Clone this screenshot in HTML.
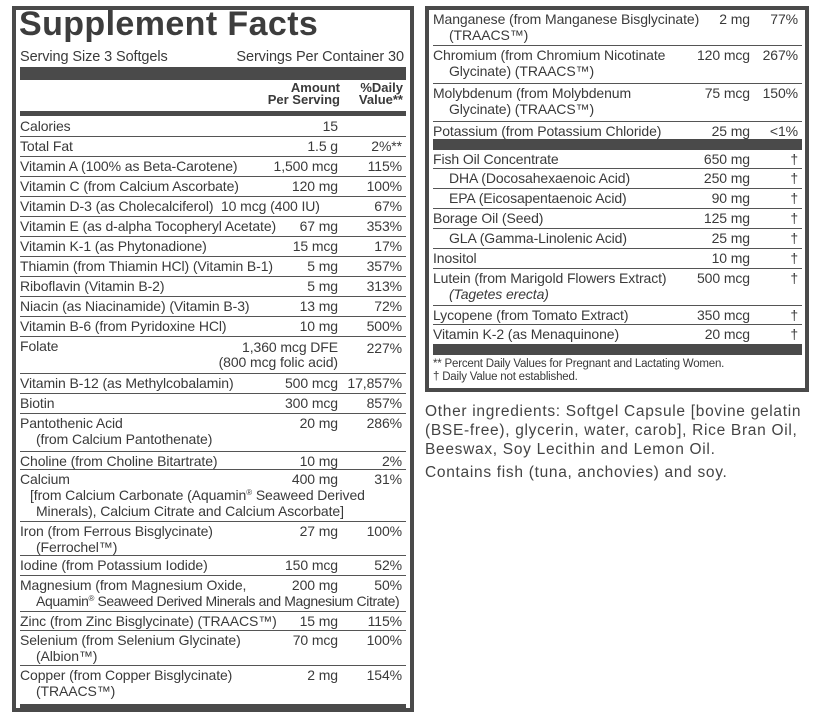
<!DOCTYPE html>
<html><head><meta charset="utf-8"><style>
body{margin:0;width:831px;height:717px;background:#fff;position:relative;overflow:hidden;font-family:"Liberation Sans",sans-serif;color:#3a3a3a;}
.box{position:absolute;border:4px solid #4a4a4a;box-sizing:border-box;}
.r{position:absolute;border-bottom:1px solid #555;font-size:14px;line-height:16px;letter-spacing:-0.1px;box-sizing:border-box;}
.r .n{position:absolute;left:0;top:1px;white-space:nowrap;}
.r .a{position:absolute;top:1px;text-align:right;white-space:nowrap;}
.r .d{position:absolute;top:1px;text-align:right;white-space:nowrap;}
.L{left:20px;width:386px;}
.L .a{right:68px;}.L .d{right:4px;}
.R{left:433px;width:369px;}
.R .a{right:52px;}.R .d{right:4px;}
.i{padding-left:16px;}
.bar{position:absolute;background:#4a4a4a;}
.s{font-size:8px;position:relative;top:-5px;line-height:0;}
</style></head><body>
<div class="box" style="left:12px;top:6px;width:402px;height:706px;"></div>
<div style="position:absolute;left:19px;top:5px;font-size:34px;font-weight:bold;color:#3d3d3d;letter-spacing:0.4px;">Supplement Facts</div>
<div style="position:absolute;left:20px;top:49px;font-size:14.5px;letter-spacing:-0.1px;">Serving Size 3 Softgels</div>
<div style="position:absolute;right:427px;top:49px;font-size:14.5px;letter-spacing:-0.1px;">Servings Per Container 30</div>
<div class="bar" style="left:20px;top:67px;width:386px;height:13px;"></div>
<div style="position:absolute;right:491px;top:82px;font-size:13px;font-weight:bold;text-align:right;line-height:12px;">Amount<br>Per Serving</div>
<div style="position:absolute;right:428px;top:82px;font-size:13px;font-weight:bold;text-align:right;line-height:12px;">%Daily<br>Value**</div>
<div class="bar" style="left:20px;top:111px;width:386px;height:5px;"></div>

<div class="r L" style="top:117px;height:20px"><span class="n">Calories</span><span class="a">15</span></div>
<div class="r L" style="top:137px;height:20px"><span class="n">Total Fat</span><span class="a">1.5 g</span><span class="d">2%**</span></div>
<div class="r L" style="top:157px;height:20px"><span class="n">Vitamin A (100% as Beta-Carotene)</span><span class="a">1,500 mcg</span><span class="d">115%</span></div>
<div class="r L" style="top:177px;height:20px"><span class="n">Vitamin C (from Calcium Ascorbate)</span><span class="a">120 mg</span><span class="d">100%</span></div>
<div class="r L" style="top:197px;height:20px"><span class="n">Vitamin D-3 (as Cholecalciferol)&nbsp; 10 mcg (400 IU)</span><span class="d">67%</span></div>
<div class="r L" style="top:217px;height:20px"><span class="n">Vitamin E (as d-alpha Tocopheryl Acetate)</span><span class="a">67 mg</span><span class="d">353%</span></div>
<div class="r L" style="top:237px;height:20px"><span class="n">Vitamin K-1 (as Phytonadione)</span><span class="a">15 mcg</span><span class="d">17%</span></div>
<div class="r L" style="top:257px;height:20px"><span class="n">Thiamin (from Thiamin HCl) (Vitamin B-1)</span><span class="a">5 mg</span><span class="d">357%</span></div>
<div class="r L" style="top:277px;height:20px"><span class="n">Riboflavin (Vitamin B-2)</span><span class="a">5 mg</span><span class="d">313%</span></div>
<div class="r L" style="top:297px;height:20px"><span class="n">Niacin (as Niacinamide) (Vitamin B-3)</span><span class="a">13 mg</span><span class="d">72%</span></div>
<div class="r L" style="top:317px;height:20px"><span class="n">Vitamin B-6 (from Pyridoxine HCl)</span><span class="a">10 mg</span><span class="d">500%</span></div>
<div class="r L" style="top:337px;height:37px"><span class="n">Folate</span><span class="a" style="top:3px;line-height:15px">1,360 mcg DFE<br>(800 mcg folic acid)</span><span class="d" style="top:3px">227%</span></div>
<div class="r L" style="top:374px;height:20px"><span class="n">Vitamin B-12 (as Methylcobalamin)</span><span class="a">500 mcg</span><span class="d">17,857%</span></div>
<div class="r L" style="top:394px;height:20px"><span class="n">Biotin</span><span class="a">300 mcg</span><span class="d">857%</span></div>
<div class="r L" style="top:414px;height:38px"><span class="n">Pantothenic Acid<br><span class="i">(from Calcium Pantothenate)</span></span><span class="a">20 mg</span><span class="d">286%</span></div>
<div class="r L" style="top:452px;height:18px"><span class="n">Choline (from Choline Bitartrate)</span><span class="a">10 mg</span><span class="d">2%</span></div>
<div class="r L" style="top:470px;height:52px"><span class="n">Calcium<br><span style="padding-left:10px">[from Calcium Carbonate (Aquamin<span class="s">®</span> Seaweed Derived</span><br><span class="i">Minerals), Calcium Citrate and Calcium Ascorbate]</span></span><span class="a">400 mg</span><span class="d">31%</span></div>
<div class="r L" style="top:522px;height:34px"><span class="n">Iron (from Ferrous Bisglycinate)<br><span class="i">(Ferrochel™)</span></span><span class="a">27 mg</span><span class="d">100%</span></div>
<div class="r L" style="top:556px;height:20px"><span class="n">Iodine (from Potassium Iodide)</span><span class="a">150 mcg</span><span class="d">52%</span></div>
<div class="r L" style="top:576px;height:36px"><span class="n">Magnesium (from Magnesium Oxide,<br><span class="i" style="letter-spacing:-0.4px">Aquamin<span class="s">®</span> Seaweed Derived Minerals and Magnesium Citrate)</span></span><span class="a">200 mg</span><span class="d">50%</span></div>
<div class="r L" style="top:612px;height:19px"><span class="n">Zinc (from Zinc Bisglycinate) (TRAACS™)</span><span class="a">15 mg</span><span class="d">115%</span></div>
<div class="r L" style="top:631px;height:35px"><span class="n">Selenium (from Selenium Glycinate)<br><span class="i">(Albion™)</span></span><span class="a">70 mcg</span><span class="d">100%</span></div>
<div class="r L" style="top:666px;height:38px;border:none"><span class="n">Copper (from Copper Bisglycinate)<br><span class="i">(TRAACS™)</span></span><span class="a">2 mg</span><span class="d">154%</span></div>
<div class="bar" style="left:20px;top:704px;width:386px;height:4px;"></div>

<div class="box" style="left:425px;top:6px;width:384px;height:386px;"></div>
<div class="r R" style="top:10px;height:36px"><span class="n">Manganese (from Manganese Bisglycinate)<br><span class="i">(TRAACS™)</span></span><span class="a">2 mg</span><span class="d">77%</span></div>
<div class="r R" style="top:46px;height:38px"><span class="n">Chromium (from Chromium Nicotinate<br><span class="i">Glycinate) (TRAACS™)</span></span><span class="a">120 mcg</span><span class="d">267%</span></div>
<div class="r R" style="top:84px;height:38px"><span class="n">Molybdenum (from Molybdenum<br><span class="i">Glycinate) (TRAACS™)</span></span><span class="a">75 mcg</span><span class="d">150%</span></div>
<div class="r R" style="top:122px;height:18px;border:none"><span class="n">Potassium (from Potassium Chloride)</span><span class="a">25 mg</span><span class="d">&lt;1%</span></div>
<div class="bar" style="left:433px;top:139px;width:369px;height:11px;"></div>
<div class="r R" style="top:150px;height:19px"><span class="n">Fish Oil Concentrate</span><span class="a">650 mg</span><span class="d">†</span></div>
<div class="r R" style="top:169px;height:20px"><span class="n i">DHA (Docosahexaenoic Acid)</span><span class="a">250 mg</span><span class="d">†</span></div>
<div class="r R" style="top:189px;height:20px"><span class="n i">EPA (Eicosapentaenoic Acid)</span><span class="a">90 mg</span><span class="d">†</span></div>
<div class="r R" style="top:209px;height:20px"><span class="n">Borage Oil (Seed)</span><span class="a">125 mg</span><span class="d">†</span></div>
<div class="r R" style="top:229px;height:20px"><span class="n i">GLA (Gamma-Linolenic Acid)</span><span class="a">25 mg</span><span class="d">†</span></div>
<div class="r R" style="top:249px;height:20px"><span class="n">Inositol</span><span class="a">10 mg</span><span class="d">†</span></div>
<div class="r R" style="top:269px;height:37px"><span class="n">Lutein (from Marigold Flowers Extract)<br><span class="i"><i>(Tagetes erecta)</i></span></span><span class="a">500 mcg</span><span class="d">†</span></div>
<div class="r R" style="top:306px;height:19px"><span class="n">Lycopene (from Tomato Extract)</span><span class="a">350 mcg</span><span class="d">†</span></div>
<div class="r R" style="top:325px;height:20px;border:none"><span class="n">Vitamin K-2 (as Menaquinone)</span><span class="a">20 mcg</span><span class="d">†</span></div>
<div class="bar" style="left:433px;top:344px;width:369px;height:11px;"></div>
<div style="position:absolute;left:433px;top:358px;font-size:11.5px;line-height:13px;letter-spacing:-0.2px;">** Percent Daily Values for Pregnant and Lactating Women.<br>† Daily Value not established.</div>

<div style="position:absolute;left:425px;top:402px;font-size:15.5px;letter-spacing:0.7px;line-height:19px;color:#444;white-space:nowrap;">Other ingredients: Softgel Capsule [bovine gelatin<br>(BSE-free), glycerin, water, carob], Rice Bran Oil,<br>Beeswax, Soy Lecithin and Lemon Oil.</div>
<div style="position:absolute;left:425px;top:463px;font-size:15.5px;letter-spacing:0.7px;line-height:19px;color:#444;white-space:nowrap;">Contains fish (tuna, anchovies) and soy.</div>
</body></html>
